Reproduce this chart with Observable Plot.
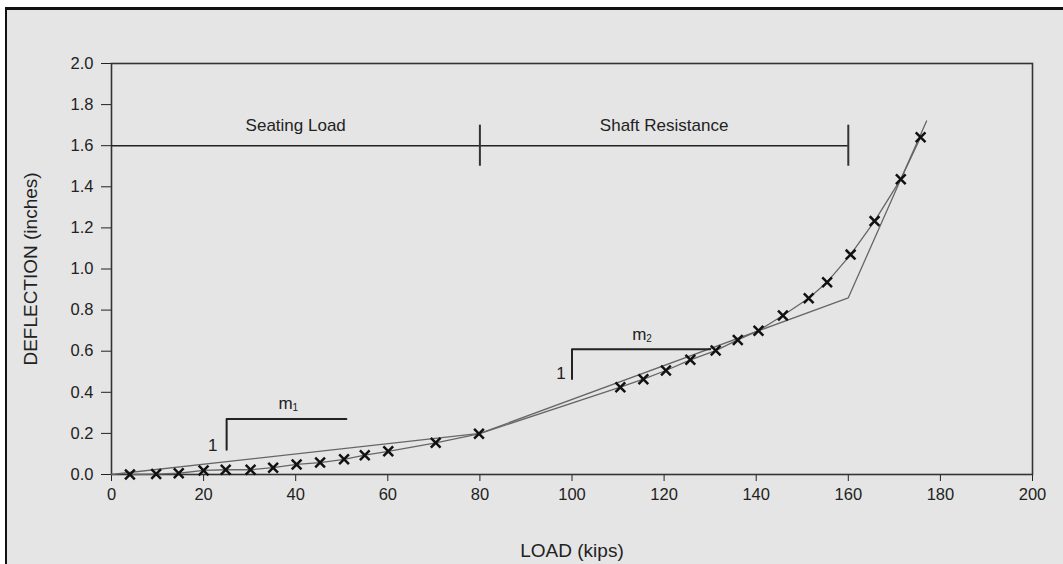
<!DOCTYPE html>
<html>
<head>
<meta charset="utf-8">
<script src="https://cdn.jsdelivr.net/npm/d3@7"></script>
<script src="https://cdn.jsdelivr.net/npm/@observablehq/plot@0.6"></script>
<style>
  html, body { margin: 0; padding: 0; width: 1063px; height: 564px; overflow: hidden; background: #fff; }
  #sheet {
    position: absolute; left: 5px; top: 7px; width: 1080px; height: 580px;
    border-top: 3px solid #111; border-left: 2px solid #111; background: #e5e5e5;
  }
  #chart { position: absolute; left: 0; top: 0; }
  /* axis titles are set larger than the tick labels */
  #chart g[aria-label$="axis label"],
  #chart g[aria-label$="axis label"] text { font-size: 19px; }
</style>
</head>
<body>
<div id="sheet"></div>
<div id="chart"></div>
<script>
// Load test readings: applied load (kips) and measured deflection (inches)
const load = [4, 9.7, 14.6, 20, 24.8, 30.2, 35.1, 40.2, 45.3, 50.5, 55, 60.1, 70.4, 79.8,
  110.5, 115.5, 120.4, 125.7, 131.2, 136, 140.5, 145.8, 151.4, 155.4, 160.5, 165.7, 171.4, 175.7];
const deflection = [0, 0.002, 0.006, 0.02, 0.023, 0.023, 0.033, 0.049, 0.058, 0.074, 0.094, 0.113, 0.154, 0.198,
  0.425, 0.464, 0.506, 0.558, 0.603, 0.655, 0.70, 0.774, 0.858, 0.936, 1.07, 1.233, 1.437, 1.641];

// Idealized piecewise-linear response
const idealLoad = [0, 80, 160, 177];
const idealDefl = [0, 0.2, 0.86, 1.72];

// Axis ticks
const xTicks = [0, 20, 40, 60, 80, 100, 120, 140, 160, 180, 200];
const yTicks = [0, 0.2, 0.4, 0.6, 0.8, 1.0, 1.2, 1.4, 1.6, 1.8, 2.0];

// Loading phases shown along the bar at the top
const phaseNames = ["Seating Load", "Shaft Resistance"];
const phaseStart = [0, 80];
const phaseEnd = [80, 160];
const phaseLevel = 1.6;

// Slope triangles m1 and m2
const slopeIndex = ["1", "2"];
const slopeCornerX = [25, 100];
const slopeBottomY = [0.12, 0.465];
const slopeTopY = [0.27, 0.61];
const slopeRunEndX = [51, 130];
const slopeLabelX = [37.8, 114.6];
const slopeLabelY = [0.345, 0.68];
const riseLabelX = [22, 97.6];
const riseLabelY = [0.14, 0.49];

const readings = load.map((x, i) => ({x, y: deflection[i]}));
const ideal = idealLoad.map((x, i) => ({x, y: idealDefl[i]}));
const phases = phaseNames.map((name, i) => ({
  name, start: phaseStart[i], end: phaseEnd[i], mid: (phaseStart[i] + phaseEnd[i]) / 2
}));
const brackets = slopeIndex.flatMap((k, i) => [
  {g: k, x: slopeCornerX[i], y: slopeBottomY[i]},
  {g: k, x: slopeCornerX[i], y: slopeTopY[i]},
  {g: k, x: slopeRunEndX[i], y: slopeTopY[i]}
]);
const slopes = slopeIndex.map((k, i) => ({
  k, lx: slopeLabelX[i], ly: slopeLabelY[i], rx: riseLabelX[i], ry: riseLabelY[i]
}));

const ink = "#222";
const font = "'Liberation Sans', Arial, Helvetica, sans-serif";

const chart = Plot.plot({
  width: 1063,
  height: 564,
  marginLeft: 111,
  marginRight: 31,
  marginTop: 63,
  marginBottom: 90,
  style: {background: "none", color: ink, fontFamily: font, fontSize: "16.5px", overflow: "visible"},
  x: {
    domain: [0, 200], ticks: xTicks, tickSize: 7, tickPadding: 7,
    tickFormat: d => String(d),
    label: "LOAD (kips)", labelAnchor: "center", labelOffset: 82, labelArrow: "none"
  },
  y: {
    domain: [0, 2], ticks: yTicks, tickSize: 10, tickPadding: 8,
    tickFormat: d => d.toFixed(1),
    label: "DEFLECTION (inches)", labelAnchor: "center", labelOffset: 88, labelArrow: "none"
  },
  marks: [
    Plot.frame({stroke: "#333", strokeWidth: 1.6}),
    // phase bar
    Plot.ruleY(phases, {y: () => phaseLevel, x1: "start", x2: "end", stroke: ink, strokeWidth: 1.6}),
    Plot.ruleX(phaseEnd, {x: d => d, y1: () => phaseLevel - 0.1, y2: () => phaseLevel + 0.1, stroke: "#333", strokeWidth: 2}),
    Plot.text(phases, {x: "mid", y: () => phaseLevel + 0.1, text: "name", fontSize: 17, fill: ink}),
    // idealized and measured curves
    Plot.line(ideal, {x: "x", y: "y", stroke: "#666", strokeWidth: 1.3}),
    Plot.line(readings, {x: "x", y: "y", stroke: "#666", strokeWidth: 1.3}),
    Plot.dot(readings, {x: "x", y: "y", symbol: "times", r: 4.5, stroke: "#111", strokeWidth: 2.5}),
    // slope triangles
    Plot.line(brackets, {x: "x", y: "y", z: "g", stroke: ink, strokeWidth: 2}),
    Plot.text(slopes, {x: "lx", y: "ly", text: () => "m", fontSize: 17, fill: ink}),
    Plot.text(slopes, {x: "lx", y: "ly", text: "k", fontSize: 10, dx: 7, dy: 4, textAnchor: "start", fill: ink}),
    Plot.text(slopes, {x: "rx", y: "ry", text: () => "1", fontSize: 17, fill: ink})
  ]
});
document.getElementById("chart").append(chart);
</script>
</body>
</html>
